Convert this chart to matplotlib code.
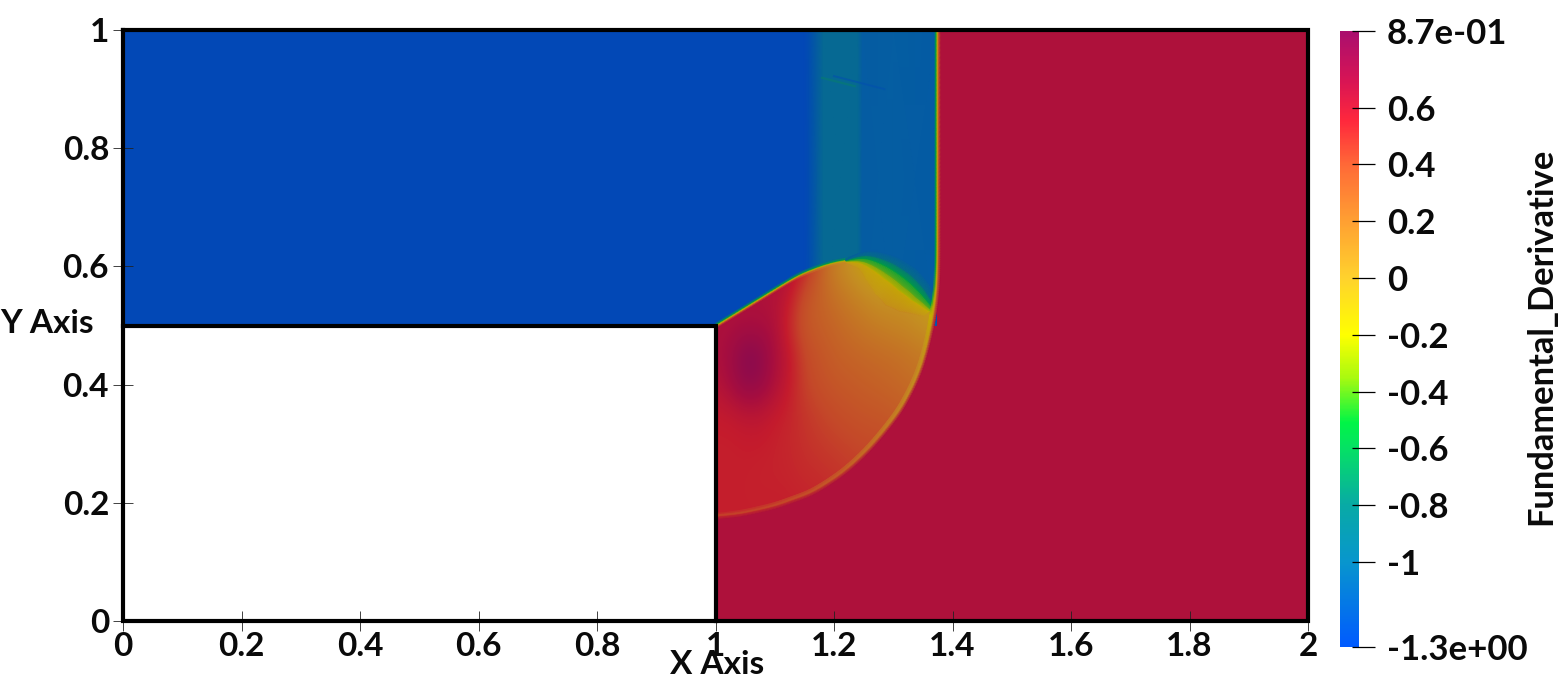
import numpy as np
import matplotlib
matplotlib.use("Agg")
import matplotlib.pyplot as plt
from matplotlib.colors import LinearSegmentedColormap, Normalize
from matplotlib.cm import ScalarMappable
from matplotlib.patches import Polygon

plt.rcParams['font.family'] = ['Lato', 'DejaVu Sans']

W, H = 1567, 688
PX = 1 / 592.0

# colour scale
cmap_vals = [-1.3, -1.0, -0.8, -0.6, -0.51, -0.35, -0.2, 0.0, 0.2, 0.4, 0.554, 0.7, 0.87]
cmap_rgb = [(0, 90, 255), (8, 150, 205), (8, 170, 165), (5, 225, 100), (0, 245, 70),
            (170, 250, 15), (255, 255, 0), (255, 210, 45), (255, 160, 50), (255, 105, 55),
            (255, 40, 60), (215, 20, 85), (170, 15, 110)]
vmin, vmax = -1.3, 0.87
field_light = (0.77, 0.68, 0.75)

cbar_ticks = [0.87, 0.6, 0.4, 0.2, 0.0, -0.2, -0.4, -0.6, -0.8, -1.0, -1.3]
cbar_labels = ['8.7e-01', '0.6', '0.4', '0.2', '0', '-0.2', '-0.4', '-0.6', '-0.8', '-1', '-1.3e+00']
x_ticks = [0, 0.2, 0.4, 0.6, 0.8, 1, 1.2, 1.4, 1.6, 1.8, 2]
x_labels = ['0', '0.2', '0.4', '0.6', '0.8', '1', '1.2', '1.4', '1.6', '1.8', '2']
y_ticks = [0, 0.2, 0.4, 0.6, 0.8, 1]
y_labels = ['0', '0.2', '0.4', '0.6', '0.8', '1']

# uniform states
base_x = [0, 1, 1.3745, 2]
base_y = [0, 0.5, 1]
base_vals = [[np.nan, 0.66, 0.66], [-1.22, -1.22, 0.66]]

# vertical bands behind the diffracted shock
band_x = [1.150, 1.158, 1.182, 1.240, 1.248, 1.300, 1.372]
band_vals = [-1.22, -1.18, -0.95, -0.95, -1.07, -1.06, -1.08]

# interior of the diffraction bubble
grid_x = [1.0, 1.025, 1.05, 1.075, 1.1, 1.125, 1.15, 1.175, 1.2, 1.225, 1.25, 1.275, 1.3, 1.325, 1.35, 1.375, 1.4]
grid_y = [0.65, 0.6, 0.55, 0.5, 0.45, 0.4, 0.35, 0.3, 0.25, 0.2, 0.15]
grid_vals = [
    [.66, .66, .66, .66, .66, .66, .60, .40, .20, .00, -.10, -.15, -.20, -.20, -.20, -.20, -.20],
    [.66, .66, .66, .66, .66, .66, .55, .30, .08, -.02, -.12, -.18, -.20, -.20, -.20, -.20, -.20],
    [.66, .66, .66, .66, .64, .58, .36, .26, .18, .10, .04, -.02, -.03, -.03, -.10, -.18, -.18],
    [.66, .67, .68, .68, .66, .50, .32, .28, .24, .19, .14, .10, .07, .04, .00, -.05, -.05],
    [.67, .72, .84, .82, .68, .58, .40, .33, .28, .25, .23, .21, .19, .16, .12, .10, .10],
    [.62, .70, .80, .78, .66, .56, .42, .36, .32, .30, .28, .26, .24, .21, .18, .15, .15],
    [.56, .57, .60, .60, .56, .52, .46, .42, .38, .35, .33, .32, .30, .28, .25, .25, .25],
    [.54, .54, .55, .55, .53, .51, .48, .45, .43, .41, .39, .38, .36, .35, .33, .33, .33],
    [.54, .54, .54, .53, .53, .52, .50, .49, .47, .45, .43, .42, .41, .40, .40, .40, .40],
    [.54, .54, .54, .54, .54, .54, .53, .52, .50, .49, .47, .46, .45, .45, .45, .45, .45],
    [.54, .54, .54, .54, .54, .54, .54, .54, .54, .54, .54, .54, .54, .54, .54, .54, .54],
]

# leading shock, top to bottom
front_x = [1.3745, 1.3745, 1.3745, 1.3745, 1.3745, 1.3742, 1.3725, 1.367, 1.357, 1.342, 1.318, 1.298, 1.268,
           1.242, 1.216, 1.188, 1.160, 1.131, 1.103, 1.075, 1.047, 1.026, 1.005]
front_y = [1.0, 0.90, 0.80, 0.72, 0.65, 0.60, 0.56, 0.517, 0.470, 0.419, 0.370, 0.340, 0.303,
           0.276, 0.253, 0.2335, 0.217, 0.206, 0.196, 0.189, 0.183, 0.180, 0.178]
front_offsets_px = [-3.0, -1.2, 0.0, 1.2, 3.0]
front_vals = [
    [-1.08, -1.08, -1.08, -1.08, -1.08, -1.08, -.80, -.20, .00, .08, .12, .16, .22, .28, .33, .38, .42, .44, .46, .48, .50, .52, .54],
    [-.52, -.52, -.52, -.52, -.52, -.50, -.40, -.20, -.05, .04, .08, .12, .18, .24, .30, .34, .38, .40, .42, .44, .45, .45, .45],
    [-.15, -.15, -.15, -.15, -.15, -.15, -.15, -.15, -.08, -.02, .03, .08, .15, .20, .25, .28, .32, .34, .36, .37, .38, .39, .40],
    [.25, .25, .25, .25, .25, .25, .22, .20, .15, .16, .20, .24, .30, .35, .40, .42, .45, .47, .48, .49, .50, .50, .50],
    [.66, .66, .66, .66, .66, .66, .66, .66, .66, .66, .66, .66, .66, .66, .66, .66, .66, .66, .66, .66, .66, .66, .66],
]

# upper edge of the bubble, left to right
edge_x = [1.002, 1.064, 1.126, 1.154, 1.199, 1.245]
edge_y = [0.501, 0.539, 0.577, 0.591, 0.607, 0.6135]
edge_offsets_px = [-2.5, -1.0, 0.0, 1.0, 2.5]
edge_vals = [
    [.66, .66, .60, .35, .10, -.05],
    [.30, .30, .30, .25, .05, -.12],
    [-.20, -.20, -.20, -.20, -.20, -.25],
    [-.55, -.55, -.55, -.55, -.55, -.55],
    [-1.22, -1.22, -1.22, -1.18, -.95, -1.0],
]

# green crescent, left to right
cres_x = [1.220, 1.240, 1.262, 1.295, 1.323, 1.345, 1.367]
cres_y = [0.610, 0.6135, 0.612, 0.597, 0.577, 0.556, 0.530]
cres_offsets = [-0.055, -0.022, -0.012, 0.0, 0.011, 0.024]
cres_scale = [0.08, 0.30, 0.60, 0.90, 1.0, 0.85, 0.40]
cres_inner_vals = [0.02, -0.02, -0.04, -0.02, 0.05, 0.06, 0.0]
cres_vals = [-0.20, -0.38, -0.55, -0.85, -1.07]

# faint streaks in the upper band
streak_a_x, streak_a_y, streak_a_val = [1.180, 1.235], [0.919, 0.905], -0.75
streak_b_x, streak_b_y, streak_b_val = [1.200, 1.285], [0.922, 0.900], -1.16

# domain outline
outline_x = [0, 2, 2, 1, 1, 0, 0]
outline_y = [1, 1, 0, 0, 0.5, 0.5, 1]
wall_x = [0, 0, 1]
wall_y = [0.5, 0, 0]


def smooth(values, n=12):
    v = np.asarray(values, float)
    p = np.r_[2 * v[0] - v[1], v, 2 * v[-1] - v[-2]]
    t = np.linspace(0, 1, n, endpoint=False)[:, None]
    a, b, c, d = p[:-3, None], p[1:-2, None], p[2:-1, None], p[3:, None]
    out = 0.5 * (2 * b.T + (c - a).T * t + (2 * a - 5 * b + 4 * c - d).T * t ** 2
                 + (-a + 3 * b - 3 * c + d).T * t ** 3)
    curve = np.r_[out.T.ravel(), v[-1]]
    # light smoothing, mirrored about the end points so these stay put
    k = n + 1
    pad = np.r_[2 * curve[0] - curve[k:0:-1], curve, 2 * curve[-1] - curve[-2:-k - 2:-1]]
    return np.convolve(pad, np.ones(k) / k, mode='same')[k:-k]


def linear(values, n=12):
    v = np.asarray(values, float)
    return np.interp(np.linspace(0, len(v) - 1, (len(v) - 1) * n + 1), np.arange(len(v)), v)


def ribbon(ax, xs, ys, offsets, rows, cmap, norm, zorder):
    cx, cy = smooth(xs), smooth(ys)
    dx, dy = np.gradient(cx), np.gradient(cy)
    L = np.hypot(dx, dy)
    L[L == 0] = 1
    nx, ny = -dy / L, dx / L
    off = np.asarray(offsets)
    if off.ndim == 1:
        off = off[:, None]
    X = cx[None, :] + off * nx[None, :]
    Y = cy[None, :] + off * ny[None, :]
    return ax.pcolormesh(X, Y, rows, shading='gouraud', cmap=cmap, norm=norm, zorder=zorder)


stops = [(v - vmin) / (vmax - vmin) for v in cmap_vals]
cmap = LinearSegmentedColormap.from_list(
    'bar', [(s, tuple(c / 255 for c in rgb)) for s, rgb in zip(stops, cmap_rgb)], N=512)
field_cmap = LinearSegmentedColormap.from_list(
    'field', [(s, tuple(f * c / 255 for f, c in zip(field_light, rgb))) for s, rgb in zip(stops, cmap_rgb)], N=512)
field_cmap.set_bad((1, 1, 1, 0))
norm = Normalize(vmin, vmax)

fig = plt.figure(figsize=(W / 100, H / 100), dpi=100, facecolor='white')
ax = fig.add_axes([123 / W, (H - 621) / H, 1185 / W, 591 / H])
ax.set_xlim(0, 2)
ax.set_ylim(0, 1)
for s in ax.spines.values():
    s.set_visible(False)

ax.pcolormesh(base_x, base_y, np.ma.masked_invalid(base_vals), cmap=field_cmap, norm=norm,
              shading='flat', zorder=1, linewidth=0, antialiased=False)
ax.pcolormesh(band_x, [0.5, 1.0], np.array([band_vals, band_vals]), shading='gouraud',
              cmap=field_cmap, norm=norm, zorder=2)
ax.plot(streak_a_x, streak_a_y, color=field_cmap(norm(streak_a_val)), lw=1.6, alpha=0.6, zorder=2.5)
ax.plot(streak_b_x, streak_b_y, color=field_cmap(norm(streak_b_val)), lw=1.4, alpha=0.6, zorder=2.5)

# bubble interior clipped to its outline
poly_x = np.r_[smooth(edge_x), smooth(cres_x)[24:], smooth(front_x)[84:]]
poly_y = np.r_[smooth(edge_y), smooth(cres_y)[24:], smooth(front_y)[84:]]
clip = Polygon(np.c_[poly_x, poly_y], closed=True, transform=ax.transData, fc='none', ec='none')
ax.add_patch(clip)
dx, dy = grid_x[1] - grid_x[0], grid_y[0] - grid_y[1]
im = ax.imshow(grid_vals, extent=[grid_x[0] - dx / 2, grid_x[-1] + dx / 2, grid_y[-1] - dy / 2, grid_y[0] + dy / 2],
               cmap=field_cmap, norm=norm, interpolation='bicubic', interpolation_stage='data',
               aspect='auto', zorder=3)
im.set_clip_path(clip)
ax.set_xlim(0, 2)
ax.set_ylim(0, 1)

# upper edge goes under the crescent
rows_e = np.array([linear(r) for r in edge_vals])
ribbon(ax, edge_x, edge_y, np.array(edge_offsets_px) * PX, rows_e, field_cmap, norm, 3.5)

# crescent
n_c = len(smooth(cres_x))
scale_c = linear(cres_scale)
off_c = np.array(cres_offsets)[:, None] * scale_c[None, :]
rows_c = np.vstack([linear(cres_inner_vals)] + [np.full(n_c, v) for v in cres_vals])
ribbon(ax, cres_x, cres_y, off_c, rows_c, field_cmap, norm, 4)

# front
rows_f = np.array([linear(r) for r in front_vals])
ribbon(ax, front_x, front_y, np.array(front_offsets_px) * PX, rows_f, field_cmap, norm, 6)

# outline
ax.plot(outline_x, outline_y, color='black', lw=3.0, clip_on=False, zorder=8,
        solid_joinstyle='miter', solid_capstyle='projecting')
ax.plot(wall_x, wall_y, color='black', lw=3.0, clip_on=False, zorder=8,
        solid_joinstyle='miter', solid_capstyle='projecting')

ax.set_xticks(x_ticks, x_labels)
ax.set_yticks(y_ticks, y_labels)
ax.tick_params(axis='both', direction='inout', length=14, width=0.6, color='#222222',
               labelsize=24, pad=1)
ax.tick_params(axis='y', pad=3)
ax.set_axisbelow(False)
for t in ax.get_xticklabels() + ax.get_yticklabels():
    t.set_fontweight('bold')
    t.set_color('#0a0a0a')

fig.text(0 / W, 1 - 323 / H, 'Y Axis', fontsize=24, fontweight='bold', va='center', ha='left', color='#0a0a0a')
fig.text(717 / W, 1 - 665 / H, 'X Axis', fontsize=24, fontweight='bold', va='center', ha='center', color='#0a0a0a')

# colour bar
cax = fig.add_axes([1340 / W, (H - 647) / H, 19 / W, 616 / H])
cb = fig.colorbar(ScalarMappable(norm, cmap), cax=cax)
cb.outline.set_visible(False)
cb.set_ticks(cbar_ticks, labels=cbar_labels)
cb.ax.tick_params(length=0, pad=20, labelsize=25)
cb.ax.minorticks_off()
for t in cb.ax.get_yticklabels():
    t.set_fontweight('bold')
    t.set_color('#0a0a0a')
cax.hlines(cbar_ticks, 12 / 19, 35 / 19, transform=cax.get_yaxis_transform(), color='black', lw=0.9, clip_on=False)
fig.text(1541 / W, 1 - 336 / H, 'Fundamental_Derivative', rotation=90, fontsize=24.8, fontweight='bold',
         va='center', ha='center', color='#0a0a0a')

fig.savefig('out.png', dpi=100)
